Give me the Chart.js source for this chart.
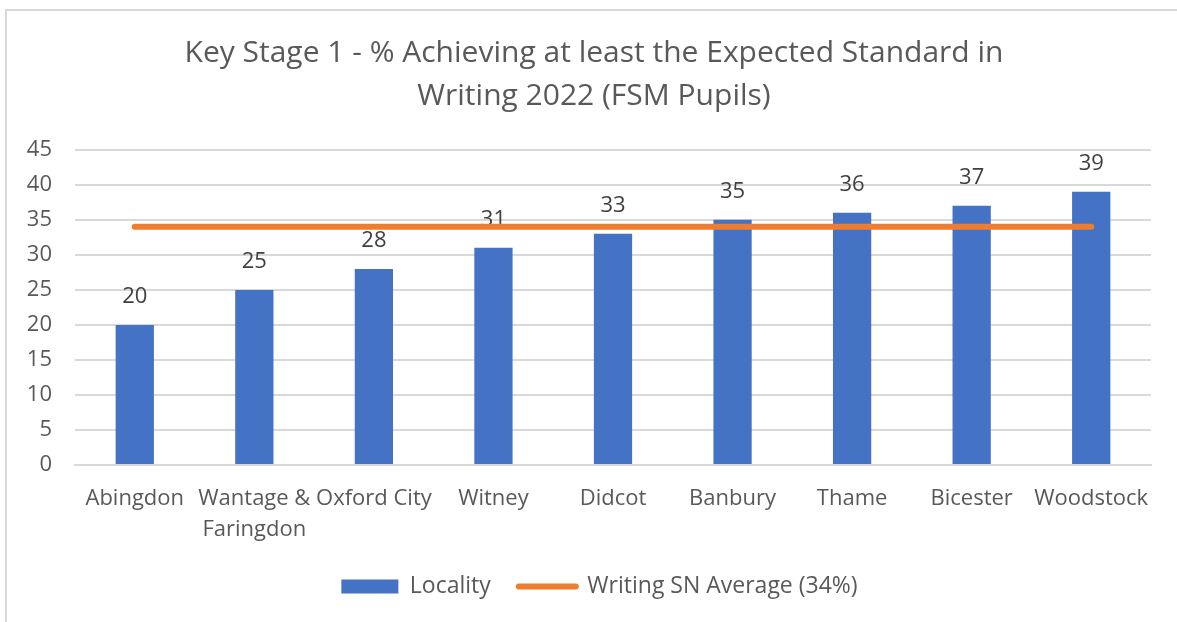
<!DOCTYPE html>
<html>
<head>
<meta charset="utf-8" />
<title>Key Stage 1 Writing 2022 (FSM Pupils)</title>
<script src="https://cdn.jsdelivr.net/npm/chart.js"></script>
<style>
  html, body { margin: 0; padding: 0; background: #ffffff; }
  #wrap { position: absolute; left: 0; top: 0; width: 1177px; height: 622px; }
</style>
</head>
<body>
<div id="wrap"><canvas id="myChart"></canvas></div>
<script>
// Data

const localities = [
  "Abingdon",
  ["Wantage &", "Faringdon"],
  "Oxford City",
  "Witney",
  "Didcot",
  "Banbury",
  "Thame",
  "Bicester",
  "Woodstock",
];
const localityValues = [20, 25, 28, 31, 33, 35, 36, 37, 39];
const snAverage = [34, 34, 34, 34, 34, 34, 34, 34, 34];
const yTicks = [0, 5, 10, 15, 20, 25, 30, 35, 40, 45];

const titleLines = [
  "Key Stage 1 - % Achieving at least the Expected Standard in",
  "Writing 2022 (FSM Pupils)",
];

const textColor = "#595959";
const fontFamily = "'Open Sans', 'Noto Sans', sans-serif";

//outer frame of the chart
const frame = {
  id: "frame",
  beforeDraw(chart) {
    const ctx = chart.ctx;
    ctx.save();
    ctx.strokeStyle = "#d9d9d9";
    ctx.lineWidth = 2;
    ctx.strokeRect(6, 10, 1300, 800);
    ctx.restore();
  },
  //title and legend are centred on the whole frame, not only the plot
  afterLayout(chart) {
    chart.titleBlock.left = 37;
    chart.legend.left = 48;
  },
};

//value labels above bars (drawn before the line so it sits on top)
const barLabels = {
  id: "barLabels",
  afterDatasetDraw(chart, args) {
    if (args.meta.type !== "bar") return;
    const ctx = chart.ctx;
    ctx.save();
    ctx.font = `22px ${fontFamily}`;
    ctx.fillStyle = "#404040";
    ctx.textAlign = "center";
    ctx.textBaseline = "middle";
    args.meta.data.forEach((bar, i) => {
      ctx.fillText(localityValues[i], bar.x, bar.y - 28);
    });
    ctx.restore();
  },
};

new Chart("myChart", {
  data: {
    labels: localities,
    datasets: [
      {
        type: "bar",
        label: "Locality",
        data: localityValues,
        backgroundColor: "#4472c4",
        borderWidth: 0,
        categoryPercentage: 0.8,
        barPercentage: 0.4,
        order: 1,
      },
      {
        type: "line",
        label: "Writing SN Average (34%)",
        data: snAverage,
        borderColor: "#ed7d31",
        backgroundColor: "#ed7d31",
        borderWidth: 6,
        borderCapStyle: "round",
        pointRadius: 0,
        order: 0,
      },
    ],
  },
  options: {
    responsive: true,
    maintainAspectRatio: false,
    animation: false,
    events: [],
    layout: { padding: { left: 10, right: 26, top: 0, bottom: 14 } },
    plugins: {
      title: {
        display: true,
        text: titleLines,
        color: textColor,
        font: { family: fontFamily, size: 30, weight: "normal", lineHeight: 1.43 },
        padding: { top: 32, bottom: 32 },
      },
      legend: {
        position: "bottom",
        labels: {
          color: textColor,
          font: { family: fontFamily, size: 23 },
          usePointStyle: true,
          pointStyleWidth: 57,
          boxHeight: 14,
          padding: 28,
          sort: (a, b) => a.datasetIndex - b.datasetIndex,
          generateLabels: (chart) =>
            Chart.defaults.plugins.legend.labels.generateLabels(chart).map((item) => {
              const ds = chart.data.datasets[item.datasetIndex];
              item.pointStyle = ds.type === "line" ? "line" : "rect";
              item.lineCap = "round";
              if (ds.type === "bar") item.lineWidth = 0;
              return item;
            }),
        },
      },
      tooltip: { enabled: false },
    },
    scales: {
      x: {
        grid: { display: false, drawTicks: false },
        border: { display: true, color: "#d9d9d9", width: 2 },
        ticks: {
          color: textColor,
          font: { family: fontFamily, size: 22, lineHeight: 1.42 },
          maxRotation: 0,
          autoSkip: false,
          padding: 18,
        },
        afterFit: (scale) => {
          scale.height = 82;
        },
      },
      y: {
        min: 0,
        max: 45,
        afterBuildTicks: (scale) => {
          scale.ticks = yTicks.map((v) => ({ value: v }));
        },
        grid: { color: "#d9d9d9", lineWidth: 2, drawTicks: false },
        border: { display: false },
        ticks: {
          color: textColor,
          font: { family: fontFamily, size: 22 },
          padding: 23,
        },
        afterFit: (scale) => {
          scale.width = 65;
        },
      },
    },
  },
  plugins: [frame, barLabels],
});
</script>
</body>
</html>
